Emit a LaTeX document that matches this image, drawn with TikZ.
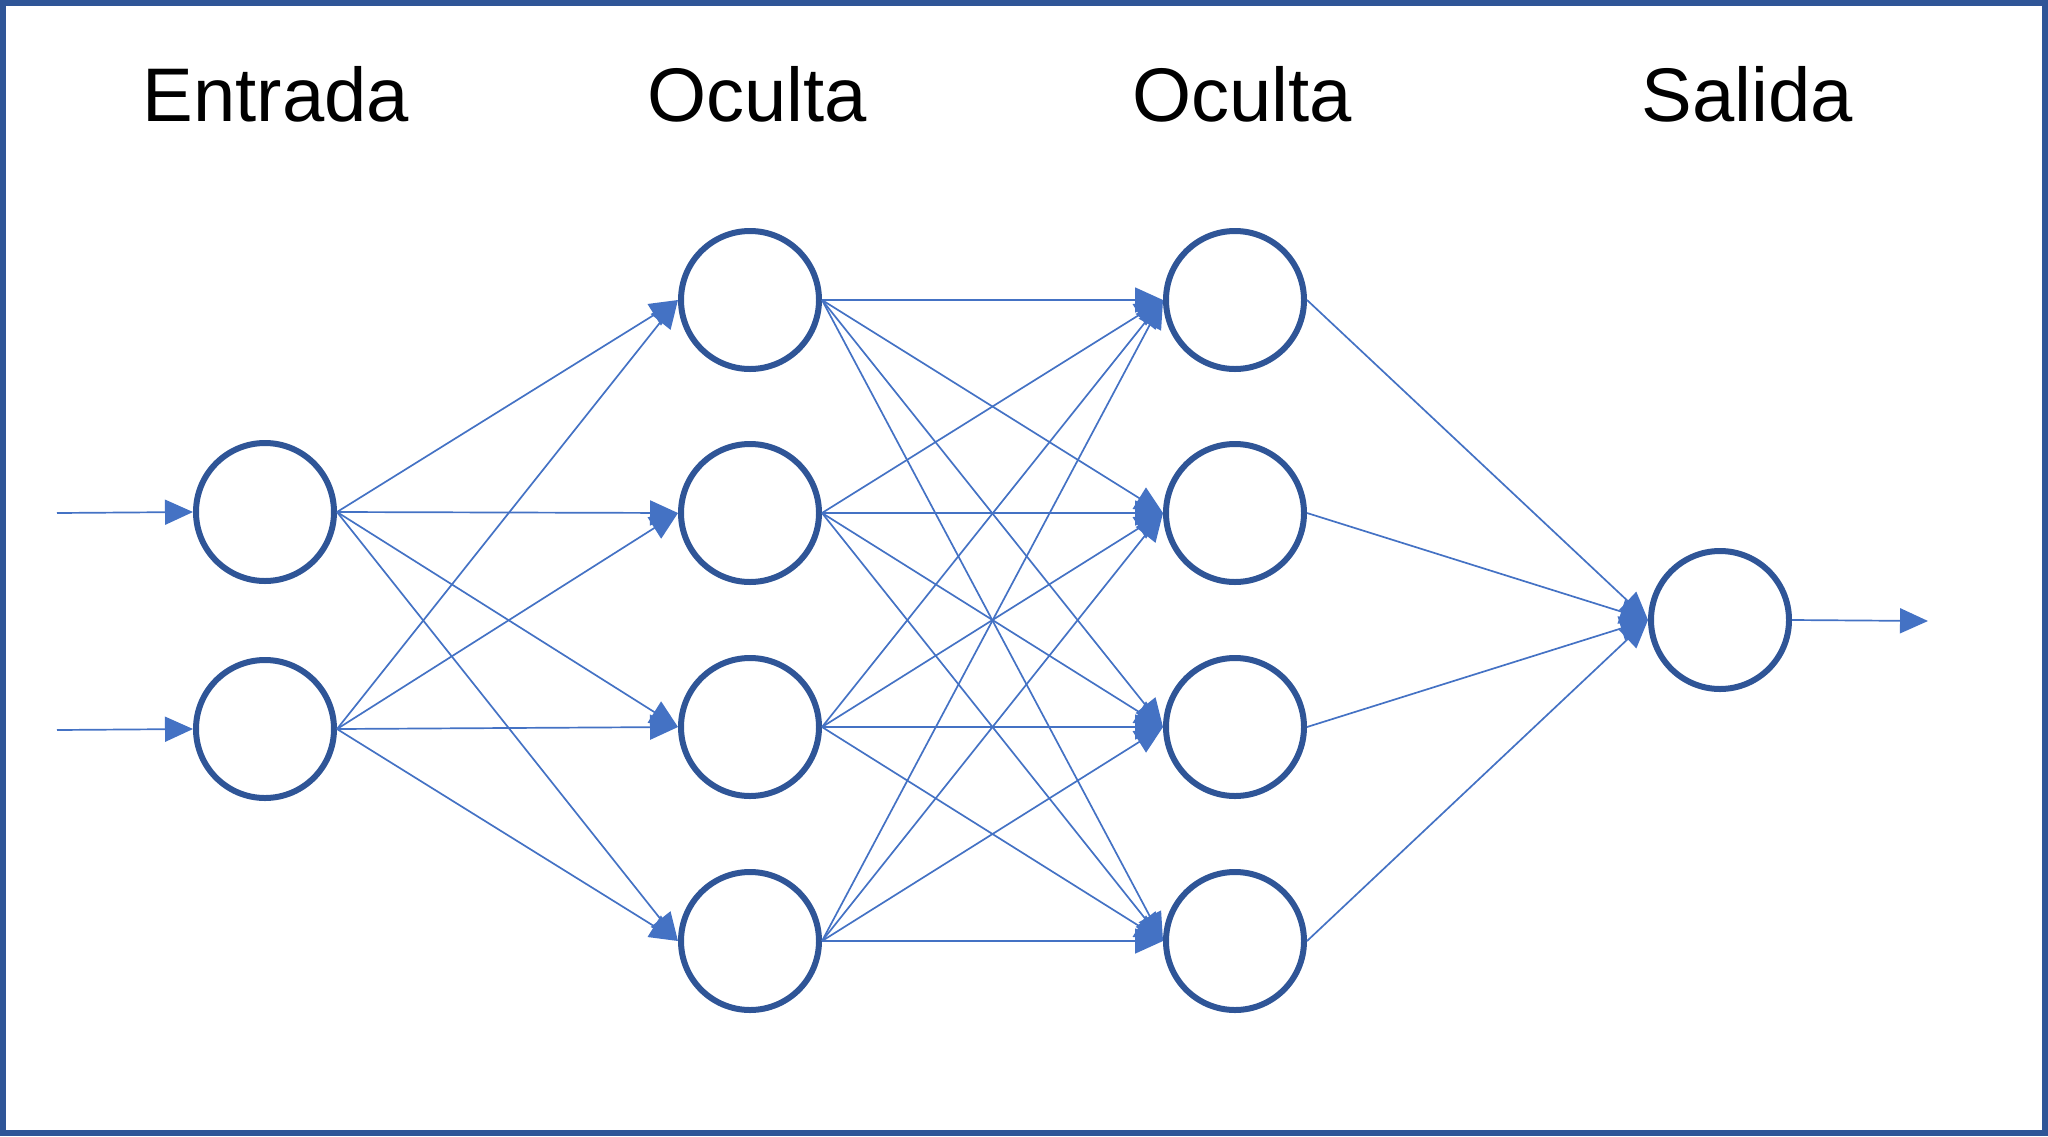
\documentclass[tikz,border=0pt]{standalone}
\usepackage{fontspec}
\setmainfont{Liberation Sans}
\usetikzlibrary{arrows.meta}
\definecolor{framec}{HTML}{2F5597}
\definecolor{edgec}{HTML}{4472C4}
\begin{document}
\begin{tikzpicture}[x=1pt,y=-1pt,
  neuron/.style={circle, draw=framec, line width=6pt, minimum size=138pt, inner sep=0pt},
  conn/.style={draw=edgec, line width=1.7pt, -{Triangle[length=28pt,width=25pt]}},
  ttl/.style={font=\fontsize{76}{90}\selectfont, anchor=base, inner sep=0pt}]
\useasboundingbox (0,0) rectangle (2048,1136);
\draw[framec, line width=6pt] (3,3) rectangle (2045,1133);
% titles
\node[ttl] (t1) at (276,121) {Entrada};
\node[ttl] (t2) at (757,121) {Oculta};
\node[ttl] (t3) at (1242,121) {Oculta};
\node[ttl] (t4) at (1747,121) {Salida};
% neurons
\node[neuron] (i1) at (265,512) {};
\node[neuron] (i2) at (265,729) {};
\foreach \k/\y in {1/300,2/513,3/727,4/941}{
  \node[neuron] (a\k) at (750,\y) {};
  \node[neuron] (b\k) at (1235,\y) {};
}
\node[neuron] (o) at (1720,620) {};
% input/output arrows
\coordinate (in1) at (57,513);
\coordinate (in2) at (57,730);
\coordinate (out) at (1928,621);
\draw[conn] (in1) -- (i1.west);
\draw[conn] (in2) -- (i2.west);
\draw[conn] (o.east) -- (out);
% connections
\foreach \s in {1,2}{\foreach \t in {1,2,3,4}{\draw[conn] (i\s.east) -- (a\t.west);}}
\foreach \s in {1,2,3,4}{\foreach \t in {1,2,3,4}{\draw[conn] (a\s.east) -- (b\t.west);}}
\foreach \s in {1,2,3,4}{\draw[conn] (b\s.east) -- (o.west);}
\end{tikzpicture}
\end{document}
